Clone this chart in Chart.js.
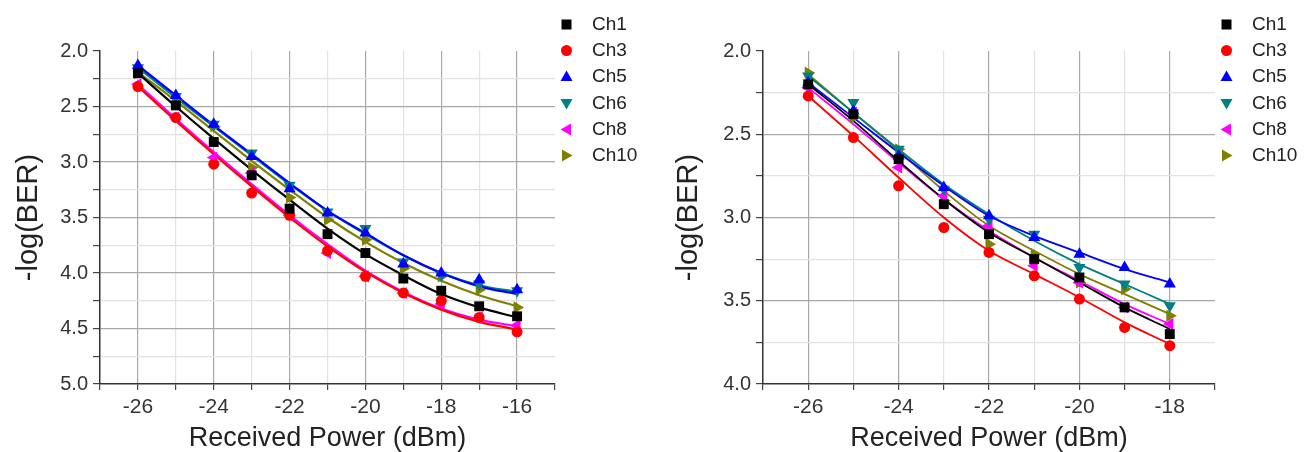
<!DOCTYPE html>
<html>
<head>
<meta charset="utf-8">
<script src="https://cdn.jsdelivr.net/npm/chart.js@4.4.1/dist/chart.umd.min.js"></script>
<style>
  body { margin: 0; background: #fff; font-family: "Liberation Sans", Arial, sans-serif; }
  #wrap { position: relative; width: 1304px; height: 452px; }
  .box { position: absolute; top: 0; width: 652px; height: 452px; }
  .legend { position: absolute; top: 0; }
  .item { position: absolute; height: 20px; white-space: nowrap; font-size: 19px; color: #222; line-height: 20px; }
  .item svg { position: absolute; top: 3px; }
</style>
</head>
<body>
<div id="wrap">
  <div class="box" style="left:0"><canvas id="chartA" width="652" height="452"></canvas></div>
  <div class="box" style="left:652px"><canvas id="chartB" width="652" height="452"></canvas></div>
  <div id="legendA" class="legend"></div>
  <div id="legendB" class="legend"></div>
</div>
<script>
// kanal
const channels = ["Ch1", "Ch3", "Ch5", "Ch6", "Ch8", "Ch10"];
const colors = ["#000000", "#ff0000", "#0000ff", "#008080", "#ff00ff", "#808000"];
const styles = ["rect", "circle", "triangle", "triangle", "triangle", "triangle"];
const rotations = [0, 0, 0, 180, -90, 90];

// grafik kiri: -26 .. -16 dBm
const powerA = [-26, -25, -24, -23, -22, -21, -20, -19, -18, -17, -16];
const berA_ch1  = [2.20, 2.49, 2.82, 3.12, 3.42, 3.65, 3.82, 4.05, 4.16, 4.30, 4.39];
const berA_ch3  = [2.32, 2.60, 3.02, 3.28, 3.48, 3.80, 4.03, 4.18, 4.25, 4.40, 4.53];
const berA_ch5  = [2.13, 2.40, 2.66, 2.95, 3.24, 3.46, 3.64, 3.92, 4.00, 4.06, 4.15];
const berA_ch6  = [2.15, 2.41, 2.66, 2.92, 3.21, 3.45, 3.60, 3.90, 4.02, 4.10, 4.16];
const berA_ch8  = [2.30, 2.60, 2.96, 3.10, 3.48, 3.82, 4.03, 4.18, 4.28, 4.40, 4.47];
const berA_ch10 = [2.20, 2.45, 2.68, 3.05, 3.32, 3.52, 3.70, 3.96, 4.03, 4.15, 4.31];
// garis fit
const fitA_ch1  = [2.20, 2.50, 2.79, 3.07, 3.34, 3.60, 3.83, 4.02, 4.19, 4.31, 4.40];
const fitA_ch3  = [2.32, 2.63, 2.93, 3.22, 3.50, 3.76, 3.99, 4.18, 4.33, 4.44, 4.51];
const fitA_ch5  = [2.13, 2.40, 2.67, 2.93, 3.19, 3.44, 3.64, 3.84, 4.00, 4.12, 4.19];
const fitA_ch6  = [2.15, 2.42, 2.68, 2.94, 3.20, 3.44, 3.65, 3.84, 4.00, 4.11, 4.17];
const fitA_ch8  = [2.30, 2.61, 2.91, 3.20, 3.48, 3.74, 3.98, 4.17, 4.32, 4.42, 4.48];
const fitA_ch10 = [2.19, 2.45, 2.72, 2.99, 3.25, 3.50, 3.72, 3.91, 4.07, 4.20, 4.30];

// grafik kanan: -26 .. -18 dBm
const powerB = [-26, -25, -24, -23, -22, -21, -20, -19, -18];
const berB_ch1  = [2.20, 2.38, 2.65, 2.92, 3.10, 3.25, 3.36, 3.54, 3.70];
const berB_ch3  = [2.27, 2.52, 2.81, 3.06, 3.21, 3.35, 3.49, 3.66, 3.77];
const berB_ch5  = [2.19, 2.36, 2.63, 2.82, 2.99, 3.12, 3.22, 3.30, 3.40];
const berB_ch6  = [2.15, 2.31, 2.59, 2.83, 3.01, 3.10, 3.30, 3.40, 3.53];
const berB_ch8  = [2.22, 2.37, 2.70, 2.87, 3.05, 3.29, 3.39, 3.54, 3.64];
const berB_ch10 = [2.13, 2.40, 2.59, 2.90, 3.16, 3.22, 3.39, 3.43, 3.59];
const fitB_ch1  = [2.20, 2.42, 2.66, 2.89, 3.09, 3.24, 3.39, 3.54, 3.67];
const fitB_ch3  = [2.27, 2.51, 2.76, 3.00, 3.20, 3.34, 3.48, 3.63, 3.76];
const fitB_ch5  = [2.19, 2.40, 2.61, 2.81, 2.99, 3.11, 3.21, 3.31, 3.39];
const fitB_ch6  = [2.15, 2.37, 2.59, 2.80, 2.98, 3.14, 3.28, 3.40, 3.52];
const fitB_ch8  = [2.22, 2.44, 2.67, 2.89, 3.08, 3.24, 3.38, 3.52, 3.64];
const fitB_ch10 = [2.14, 2.37, 2.60, 2.84, 3.05, 3.20, 3.34, 3.46, 3.58];

const yTicksA = [2.0, 2.5, 3.0, 3.5, 4.0, 4.5, 5.0];
const yTicksB = [2.0, 2.5, 3.0, 3.5, 4.0];
const xTicksA = [-26, -24, -22, -20, -18, -16];
const xTicksB = [-26, -24, -22, -20, -18];

const FONT = "'Liberation Sans', Arial, sans-serif";

function toPoints(xs, ys) {
    return xs.map((x, i) => ({ x: x, y: ys[i] }));
}

function buildDatasets(xs, berList, fitList, lineW) {
    const ds = [];
    channels.forEach((ch, i) => {
        ds.push({
            label: ch + " fit",
            data: toPoints(xs, fitList[i]),
            showLine: true,
            borderColor: colors[i],
            borderWidth: lineW,
            pointRadius: 0,
            tension: 0.4,
            cubicInterpolationMode: "monotone",
            order: 2
        });
    });
    channels.forEach((ch, i) => {
        ds.push({
            label: ch,
            data: toPoints(xs, berList[i]),
            showLine: false,
            pointStyle: styles[i],
            rotation: rotations[i],
            pointRadius: styles[i] === "rect" ? 7 : (styles[i] === "circle" ? 5.5 : 7),
            backgroundColor: colors[i],
            borderColor: colors[i],
            borderWidth: 0,
            order: 1
        });
    });
    return ds;
}

function makeChart(id, xs, berList, fitList, cfg) {
    const isMajorY = v => cfg.yTicks.some(t => Math.abs(t - v) < 1e-6);
    return new Chart(document.getElementById(id), {
        type: "scatter",
        data: { datasets: buildDatasets(xs, berList, fitList, cfg.lineW) },
        options: {
            responsive: false,
            animation: false,
            layout: { padding: { top: 51, right: cfg.padRight, left: 0, bottom: 0 } },
            plugins: { legend: { display: false }, tooltip: { enabled: false } },
            scales: {
                x: {
                    type: "linear",
                    min: cfg.xMin,
                    max: cfg.xMax,
                    afterFit: s => { s.height = 68; },
                    border: { color: "#333", width: 1.5 },
                    grid: {
                        color: c => {
                            const v = c.tick ? c.tick.value : null;
                            if (v === null || v === cfg.xMax || v === cfg.xMin) return "rgba(0,0,0,0)";
                            return cfg.xTicks.includes(v) ? "#a8a8a8" : "#e2e2e2";
                        },
                        tickColor: "#444",
                        tickLength: 6,
                        lineWidth: 1.2
                    },
                    ticks: {
                        stepSize: 1,
                        autoSkip: false,
                        maxRotation: 0,
                        padding: 5,
                        color: "#333",
                        font: { family: FONT, size: 21 },
                        callback: v => cfg.xTicks.includes(v) ? String(v) : ""
                    },
                    title: {
                        display: true,
                        text: "Received Power (dBm)",
                        color: "#222",
                        font: { family: FONT, size: 27, lineHeight: 1 },
                        padding: { top: 2, bottom: 0 }
                    }
                },
                y: {
                    type: "linear",
                    reverse: true,
                    min: 2,
                    max: cfg.yMax,
                    afterFit: s => { s.width = cfg.yWidth; },
                    border: { color: "#333", width: 1.5 },
                    grid: {
                        color: c => {
                            const v = c.tick ? c.tick.value : null;
                            if (v === null || Math.abs(v - 2) < 1e-6 || Math.abs(v - cfg.yMax) < 1e-6) return "rgba(0,0,0,0)";
                            return isMajorY(v) ? "#a8a8a8" : "#e2e2e2";
                        },
                        tickColor: "#444",
                        tickLength: 7,
                        lineWidth: 1.2
                    },
                    ticks: {
                        stepSize: 0.25,
                        autoSkip: false,
                        padding: 5,
                        color: "#333",
                        font: { family: FONT, size: 20 },
                        callback: v => isMajorY(v) ? v.toFixed(1) : ""
                    },
                    title: {
                        display: true,
                        text: "-log(BER)",
                        color: "#222",
                        font: { family: FONT, size: 29, lineHeight: 1 },
                        padding: { top: cfg.yTitlePad, bottom: 0 }
                    }
                }
            }
        }
    });
}

function markerSvg(i) {
    const c = colors[i];
    let shape;
    if (styles[i] === "rect") shape = `<rect x="2.5" y="2.5" width="10" height="10" fill="${c}"/>`;
    else if (styles[i] === "circle") shape = `<circle cx="7.5" cy="7.5" r="5.5" fill="${c}"/>`;
    else {
        const r = rotations[i];
        let pts = "7.5,1.5 13.5,12 1.5,12";
        if (r === 180) pts = "7.5,13.5 13.5,3 1.5,3";
        if (r === -90) pts = "1.5,7.5 12,1.5 12,13.5";
        if (r === 90) pts = "13.5,7.5 3,1.5 3,13.5";
        shape = `<polygon points="${pts}" fill="${c}"/>`;
    }
    return `<svg width="15" height="15" style="left:0">${shape}</svg>`;
}

function buildLegend(id, markerX, textX) {
    const el = document.getElementById(id);
    channels.forEach((ch, i) => {
        const d = document.createElement("div");
        d.className = "item";
        d.style.left = (markerX - 7.5) + "px";
        d.style.top = (14 + i * 26.2) + "px";
        d.innerHTML = markerSvg(i) + `<span style="position:absolute;left:${textX - markerX + 7.5}px">${ch}</span>`;
        el.appendChild(d);
    });
}

makeChart("chartA", powerA,
    [berA_ch1, berA_ch3, berA_ch5, berA_ch6, berA_ch8, berA_ch10],
    [fitA_ch1, fitA_ch3, fitA_ch5, fitA_ch6, fitA_ch8, fitA_ch10],
    { xMin: -27, xMax: -15, yMax: 5, yTicks: yTicksA, xTicks: xTicksA, yWidth: 100, padRight: 97, yTitlePad: 14, lineW: 2.2 });

makeChart("chartB", powerB,
    [berB_ch1, berB_ch3, berB_ch5, berB_ch6, berB_ch8, berB_ch10],
    [fitB_ch1, fitB_ch3, fitB_ch5, fitB_ch6, fitB_ch8, fitB_ch10],
    { xMin: -27, xMax: -17, yMax: 4, yTicks: yTicksB, xTicks: xTicksB, yWidth: 111, padRight: 89, yTitlePad: 22, lineW: 1.8 });

buildLegend("legendA", 566, 592);
buildLegend("legendB", 1226, 1252);
</script>
</body>
</html>
